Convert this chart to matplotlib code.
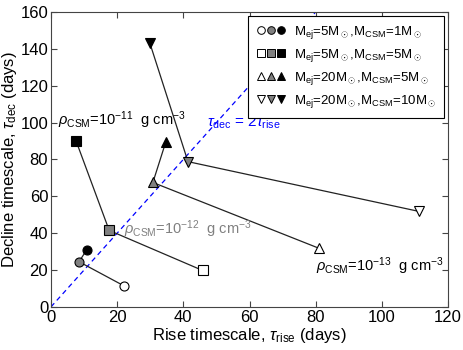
import numpy as np
import matplotlib.pyplot as plt
from matplotlib.legend_handler import HandlerTuple
from matplotlib.lines import Line2D

plt.rcParams['font.family'] = ['Liberation Sans', 'DejaVu Sans']
plt.rcParams['mathtext.fontset'] = 'custom'
plt.rcParams['mathtext.rm'] = 'Liberation Sans'
plt.rcParams['mathtext.it'] = 'Liberation Sans:italic'

# points per model: (black, gray, open) = rho 1e-11, 1e-12, 1e-13
labels = [r'M$_{\rm ej}$=5M$_\odot$,M$_{\rm CSM}$=1M$_\odot$',
          r'M$_{\rm ej}$=5M$_\odot$,M$_{\rm CSM}$=5M$_\odot$',
          r'M$_{\rm ej}$=20M$_\odot$,M$_{\rm CSM}$=5M$_\odot$',
          r'M$_{\rm ej}$=20M$_\odot$,M$_{\rm CSM}$=10M$_\odot$']
markers = ['o', 's', '^', 'v']
t_rise = [[10.8, 8.5, 22.0],
          [7.6, 17.6, 45.8],
          [34.7, 30.8, 81.0],
          [29.9, 41.4, 111.2]]
t_dec = [[31.0, 24.5, 11.5],
         [90.0, 41.5, 19.8],
         [89.5, 67.5, 31.8],
         [143.0, 78.8, 51.8]]
fills = ['black', 'gray', 'white']

fig = plt.figure(figsize=(4.63, 3.5), dpi=100)
ax = fig.add_axes([0.110, 0.123, 0.858, 0.843])

# tau_dec = 2 tau_rise
xl = np.array([0, 80])
ax.plot(xl, 2 * xl, '--', color='blue', lw=0.9, dashes=(4, 3))

handles = []
for i in range(4):
    ax.plot(t_rise[i], t_dec[i], '-', color='#222222', lw=0.9, zorder=2)
    hs = []
    for j in range(3):
        ax.plot(t_rise[i][j], t_dec[i][j], marker=markers[i], ms=6.5,
                mfc=fills[j], mec='black', mew=0.8, ls='none', zorder=3)
    for j in [2, 1, 0]:
        hs.append(Line2D([], [], marker=markers[i], ms=5.5, mfc=fills[j],
                         mec='black', mew=0.7, ls='none'))
    handles.append(tuple(hs))

ax.text(47, 100, r'$\tau_{\rm dec}$ = 2$\tau_{\rm rise}$', color='blue', fontsize=11,
        va='center')
ax.text(2, 101, r'$\rho_{\rm CSM}$=10$^{-11}$  g cm$^{-3}$', color='black',
        fontsize=10.5, va='center')
ax.text(22, 42, r'$\rho_{\rm CSM}$=10$^{-12}$  g cm$^{-3}$', color='gray',
        fontsize=10.5, va='center')
ax.text(80, 22, r'$\rho_{\rm CSM}$=10$^{-13}$  g cm$^{-3}$', color='black',
        fontsize=10.5, va='center')

ax.set_xlim(0, 120)
ax.set_ylim(0, 160)
ax.set_xticks(np.arange(0, 121, 20))
ax.set_yticks(np.arange(0, 161, 20))
ax.tick_params(direction='in', top=True, right=True, labelsize=12, length=4,
               color='#444444', pad=2)
for s in ax.spines.values():
    s.set_color('#444444')
ax.set_xlabel(r'Rise timescale, $\tau_{\rm rise}$ (days)', fontsize=12, labelpad=1)
ax.set_ylabel(r'Decline timescale, $\tau_{\rm dec}$ (days)', fontsize=12, labelpad=1)

leg = ax.legend(handles, labels, handler_map={tuple: HandlerTuple(ndivide=None, pad=0.0)},
                loc='upper right', fontsize=9.5, handlelength=2.3, handletextpad=0.6,
                borderaxespad=0.3, borderpad=0.6, fancybox=False, framealpha=1,
                labelspacing=0.45)
leg.get_frame().set_edgecolor('black')
leg.get_frame().set_linewidth(0.8)

fig.savefig('out.png', dpi=100)
